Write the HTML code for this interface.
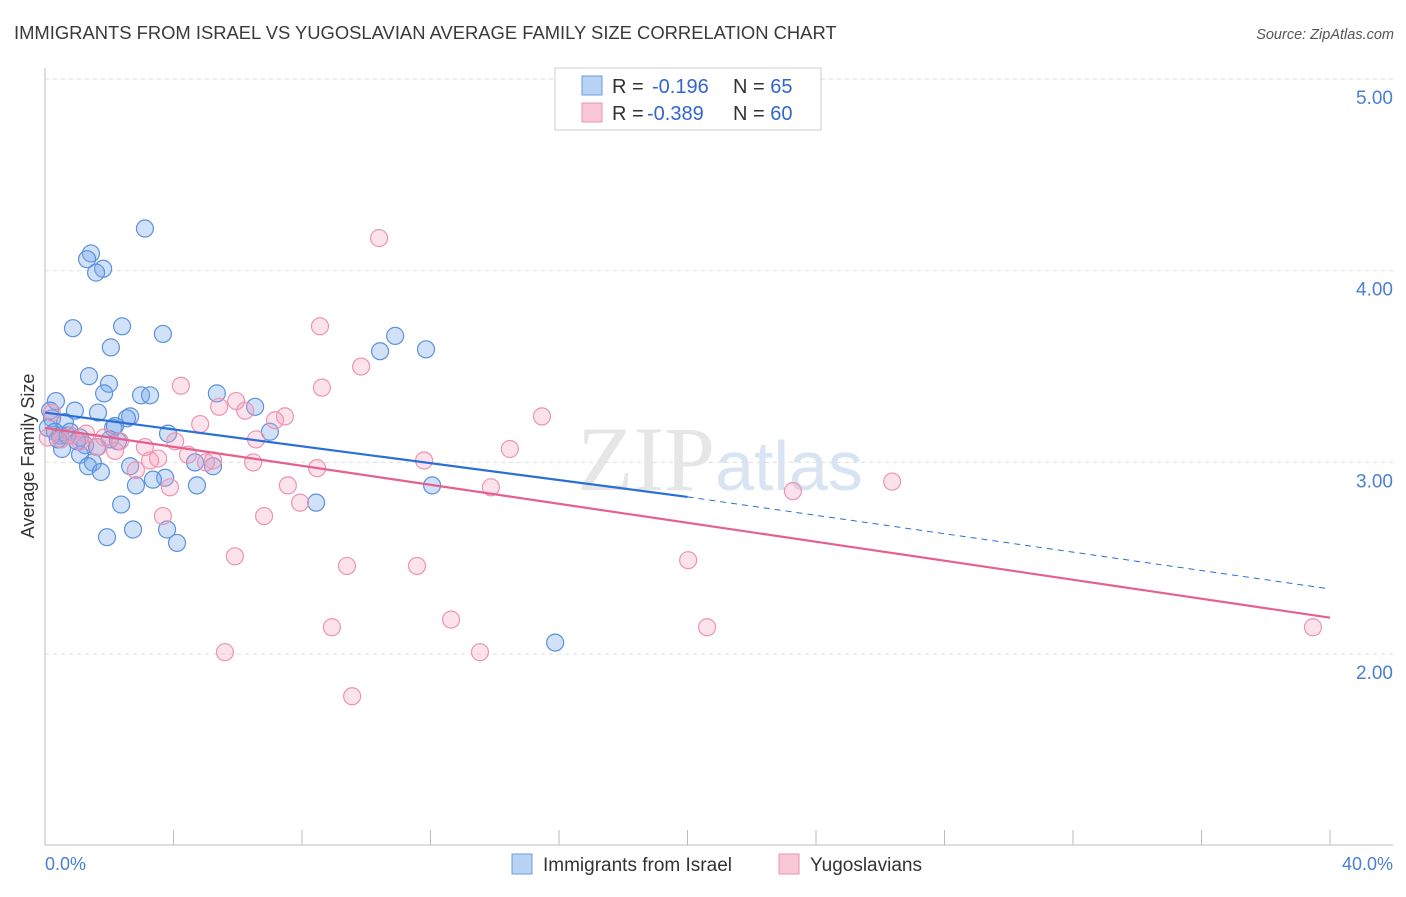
<!DOCTYPE html>
<html><head><meta charset="utf-8"><style>
body{margin:0;background:#fff;font-family:"Liberation Sans",sans-serif;}
</style></head><body>
<svg width="1406" height="892" xmlns="http://www.w3.org/2000/svg" font-family="Liberation Sans, sans-serif">
<text x="14" y="39" font-size="18.4" fill="#3a3a3a">IMMIGRANTS FROM ISRAEL VS YUGOSLAVIAN AVERAGE FAMILY SIZE CORRELATION CHART</text>
<text x="1394" y="39" font-size="14.5" fill="#555" font-style="italic" text-anchor="end">Source: ZipAtlas.com</text>
<g id="grid"></g>
<text x="720" y="490" font-size="92" fill="#e6e6e6" text-anchor="middle" font-family="Liberation Serif, serif">ZIP<tspan fill="#d9e4f3" font-family="Liberation Sans, sans-serif" font-size="70">atlas</tspan></text>
<g id="pts"></g>
<g id="lines"></g>
<text transform="translate(34,456) rotate(-90)" font-size="18" fill="#333" text-anchor="middle">Average Family Size</text>
<g>
<rect x="555" y="68" width="266" height="62" fill="#fff" stroke="#ccc"/>
<rect x="582" y="76" width="20" height="19" fill="#b8d3f5" stroke="#6a9be0"/>
<rect x="582" y="103" width="20" height="19" fill="#f9c7d6" stroke="#e993b0"/>
<text x="612" y="93" font-size="20" fill="#333">R =  <tspan fill="#3366cc" x="652">-0.196</tspan><tspan x="733">N = </tspan><tspan fill="#3366cc">65</tspan></text>
<text x="612" y="120" font-size="20" fill="#333">R = <tspan fill="#3366cc" x="647">-0.389</tspan><tspan x="733">N = </tspan><tspan fill="#3366cc">60</tspan></text>
</g>
<g>
<rect x="512" y="854" width="20" height="20" fill="#b8d3f5" stroke="#6a9be0"/>
<text x="543" y="871" font-size="19" fill="#333">Immigrants from Israel</text>
<rect x="779" y="854" width="20" height="20" fill="#f9c7d6" stroke="#e993b0"/>
<text x="810" y="871" font-size="19" fill="#333">Yugoslavians</text>
</g>
<text x="45" y="870" font-size="18" fill="#4a7fd4">0.0%</text>
<text x="1393" y="870" font-size="18" fill="#4a7fd4" text-anchor="end">40.0%</text>
</svg>
<script>
const yTicks=[5,4,3,2];
const yTickLabels=["5.00","4.00","3.00","2.00"];
const xTicks=[0,4,8,12,16,20,24,28,32,36,40];
const israelX=[3.11,1.43,1.31,1.81,1.59,0.87,2.40,3.67,2.05,10.43,10.90,11.86,1.37,1.99,1.84,2.99,3.27,5.35,6.54,0.34,0.93,1.65,2.65,2.55,0.16,0.22,0.62,2.12,2.18,3.83,7.0,0.09,0.31,0.78,1.09,0.47,2.02,2.27,1.25,0.53,1.62,1.09,1.49,1.34,1.74,2.65,4.67,5.23,3.74,3.36,2.83,4.73,12.05,8.44,2.37,3.80,2.74,1.93,4.11,15.88,0.4,0.7,1.0];
const israelY=[4.22,4.09,4.06,4.01,3.99,3.70,3.71,3.67,3.60,3.58,3.66,3.59,3.45,3.41,3.36,3.35,3.35,3.36,3.29,3.32,3.27,3.26,3.24,3.23,3.27,3.23,3.21,3.18,3.19,3.15,3.16,3.18,3.16,3.16,3.13,3.14,3.12,3.11,3.09,3.07,3.08,3.04,3.0,2.98,2.95,2.98,3.0,2.98,2.92,2.91,2.88,2.88,2.88,2.79,2.78,2.65,2.65,2.61,2.58,2.06,3.12,3.14,3.11];
const yugoX=[10.40,8.56,9.84,8.62,4.23,15.47,5.95,5.42,6.23,7.47,7.16,4.83,0.22,0.09,1.28,1.84,2.33,4.05,6.57,3.11,1.65,14.47,2.18,4.45,3.52,3.27,5.23,5.01,6.48,11.80,2.83,8.47,26.37,7.56,3.89,13.88,23.28,7.94,3.67,6.82,5.91,20.02,9.40,11.58,12.64,8.93,20.61,39.47,5.60,13.54,9.56,0.5,0.8,1.1];
const yugoY=[4.17,3.71,3.50,3.39,3.40,3.24,3.32,3.29,3.27,3.24,3.22,3.20,3.26,3.13,3.15,3.13,3.11,3.11,3.12,3.08,3.08,3.07,3.06,3.04,3.02,3.01,3.01,3.0,3.0,3.01,2.96,2.97,2.90,2.88,2.87,2.87,2.85,2.79,2.72,2.72,2.51,2.49,2.46,2.46,2.18,2.14,2.14,2.14,2.01,2.01,1.78,3.12,3.14,3.11];
const israelTrend=[3.26,2.82,2.34];
const yugoTrend=[3.18,2.69,2.19];
const trendX=[0,20,40];
const NS="http://www.w3.org/2000/svg";
const X=v=>45+v/40*1285;
const Y=v=>79+(5-v)*191.7;
function mk(t,a,p){const e=document.createElementNS(NS,t);for(const k in a)e.setAttribute(k,a[k]);p.appendChild(e);return e;}
const grid=document.getElementById('grid');
const ax=mk('line',{x1:45,y1:68,x2:45,y2:845,stroke:'#bbb'},grid);


const bx=mk('line',{x1:45,y1:845,x2:1393,y2:845,stroke:'#bbb'},grid);


yTicks.forEach((v,i)=>{
 const g=mk('line',{x1:45,y1:Y(v),x2:1393,y2:Y(v),stroke:'#ddd','stroke-dasharray':'4,4'},grid);
 
 
 const t=mk('text',{x:1393,y:Y(v)+25,'font-size':19,fill:'#4a7fd4','text-anchor':'end'},grid);
 t.textContent=yTickLabels[i];
 
 
});
xTicks.forEach(v=>{
 const t=mk('line',{x1:X(v),y1:830,x2:X(v),y2:845,stroke:'#bbb'},grid);
 
 
});
const pts=document.getElementById('pts');
israelX.forEach((x,i)=>{
 const c=mk('circle',{cx:X(x),cy:Y(israelY[i]),r:8.5,fill:'rgba(120,170,235,0.35)',stroke:'#5b92dd','stroke-width':1.2},pts);
 
 
});
yugoX.forEach((x,i)=>{
 const c=mk('circle',{cx:X(x),cy:Y(yugoY[i]),r:8.5,fill:'rgba(245,160,190,0.3)',stroke:'#ec94b2','stroke-width':1.2},pts);
 
 
});
const L=document.getElementById('lines');
const b1=mk('line',{x1:X(trendX[0]),y1:Y(israelTrend[0]),x2:X(trendX[1]),y2:Y(israelTrend[1]),stroke:'#2a6fd6','stroke-width':2.2},L);


const b2=mk('line',{x1:X(trendX[1]),y1:Y(israelTrend[1]),x2:X(trendX[2]),y2:Y(israelTrend[2]),stroke:'#2a6fd6','stroke-width':1,'stroke-dasharray':'6,5'},L);


const p1=mk('line',{x1:X(trendX[0]),y1:Y(yugoTrend[0]),x2:X(trendX[2]),y2:Y(yugoTrend[2]),stroke:'#e5608e','stroke-width':2.2},L);


</script>
</body></html>
